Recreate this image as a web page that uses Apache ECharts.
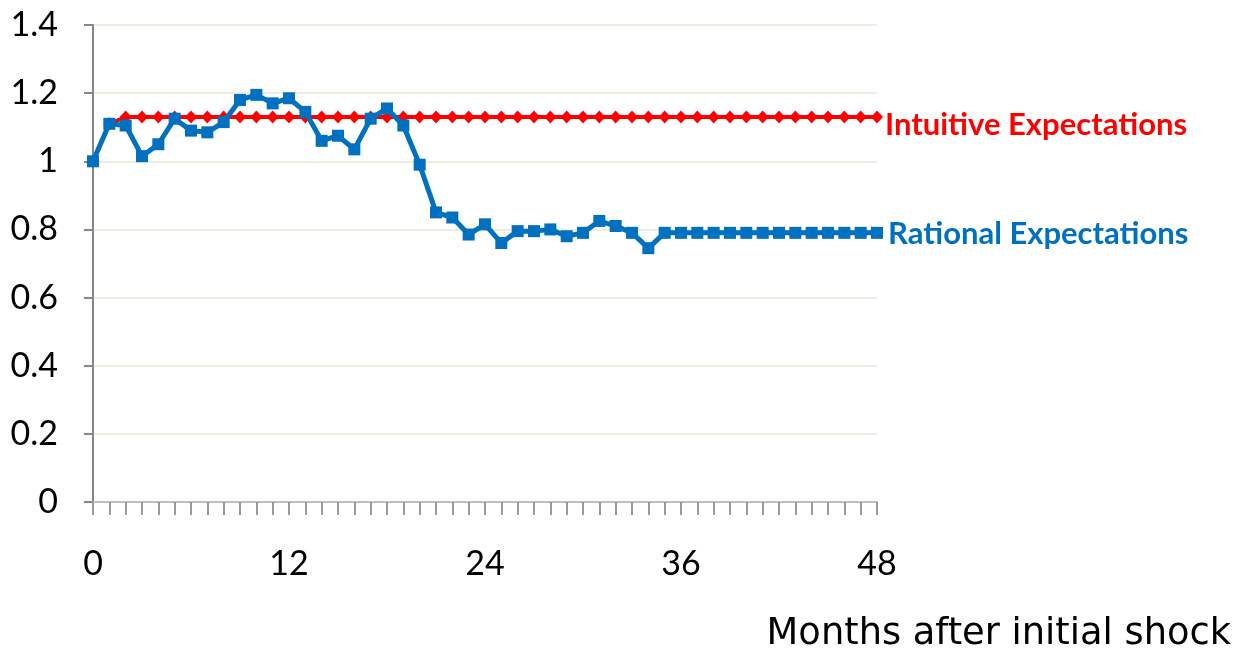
<!DOCTYPE html>
<html>
<head>
<meta charset="utf-8">
<script src="https://cdn.jsdelivr.net/npm/echarts@6/dist/echarts.min.js"></script>
<style>
html,body{margin:0;padding:0;background:#fff;}
#chart{width:1254px;height:654px;}
</style>
</head>
<body>
<div id="chart"></div>
<script>
const months = [0,1,2,3,4,5,6,7,8,9,10,11,12,13,14,15,16,17,18,19,20,21,22,23,24,25,26,27,28,29,30,31,32,33,34,35,36,37,38,39,40,41,42,43,44,45,46,47,48];
const intuitive = [1.00,1.11,1.13,1.13,1.13,1.13,1.13,1.13,1.13,1.13,1.13,1.13,1.13,1.13,1.13,1.13,1.13,1.13,1.13,1.13,1.13,1.13,1.13,1.13,1.13,1.13,1.13,1.13,1.13,1.13,1.13,1.13,1.13,1.13,1.13,1.13,1.13,1.13,1.13,1.13,1.13,1.13,1.13,1.13,1.13,1.13,1.13,1.13,1.13];
const rational = [1.00,1.11,1.105,1.015,1.05,1.125,1.09,1.085,1.115,1.18,1.195,1.17,1.185,1.145,1.06,1.075,1.035,1.125,1.155,1.105,0.99,0.85,0.835,0.785,0.815,0.76,0.795,0.795,0.80,0.78,0.79,0.825,0.81,0.79,0.745,0.79,0.79,0.79,0.79,0.79,0.79,0.79,0.79,0.79,0.79,0.79,0.79,0.79,0.79];
const xTicks = [0,12,24,36,48];
const yTicks = [0,0.2,0.4,0.6,0.8,1,1.2,1.4];
const seriesNames = ['Intuitive Expectations','Rational Expectations'];
const axisTitle = 'Months after initial shock';

const pairs = (vals) => months.map((m, i) => [m, vals[i]]);

const chart = echarts.init(document.getElementById('chart'), null, {renderer:'canvas'});
const labelFont = 'Lato';
chart.setOption({
  animation: false,
  backgroundColor: '#ffffff',
  title: {
    text: axisTitle,
    right: 18,
    top: 611,
    textStyle: {fontFamily: 'DejaVu Sans', fontSize: 36.8, fontWeight: 'normal', color: '#000'}
  },
  grid: {left: 93, right: 377, top: 25, bottom: 152, containLabel: false},
  xAxis: {
    type: 'value',
    min: xTicks[0],
    max: xTicks[xTicks.length - 1],
    interval: 12,
    axisLine: {show: true, onZero: false, lineStyle: {color: '#BFBFBF', width: 2}},
    axisTick: {show: true, length: 13, lineStyle: {color: '#9A9A9A', width: 2}},
    minorTick: {show: true, splitNumber: 12, length: 13, lineStyle: {color: '#9A9A9A', width: 2}},
    splitLine: {show: false},
    axisLabel: {margin: 45, fontFamily: labelFont, fontSize: 34, color: '#000'}
  },
  yAxis: {
    type: 'value',
    min: 0,
    max: 1.4,
    interval: 0.2,
    axisLine: {show: true, lineStyle: {color: '#868686', width: 2}},
    axisTick: {show: true, length: 9, lineStyle: {color: '#868686', width: 2}},
    splitLine: {show: true, lineStyle: {color: '#EEECE1', width: 2}},
    axisLabel: {
      margin: 35, fontFamily: labelFont, fontSize: 34, color: '#000',
      formatter: (v) => {
        const t = yTicks.find(y => Math.abs(y - v) < 1e-6);
        return t === undefined ? '' : String(+t.toFixed(1));
      }
    }
  },
  series: [
    {
      name: seriesNames[0],
      type: 'line',
      data: pairs(intuitive),
      symbol: 'diamond',
      symbolSize: [12, 13],
      lineStyle: {color: '#FF0000', width: 4},
      itemStyle: {color: '#FF0000'},
      z: 2,
      endLabel: {
        show: true, formatter: '{a}', distance: 8, offset: [0, 8],
        fontFamily: labelFont, fontWeight: 'bold', fontSize: 31, color: '#FF0000'
      }
    },
    {
      name: seriesNames[1],
      type: 'line',
      data: pairs(rational),
      symbol: 'rect',
      symbolSize: 12,
      lineStyle: {color: '#0070C0', width: 5},
      itemStyle: {color: '#0070C0'},
      z: 3,
      endLabel: {
        show: true, formatter: '{a}', distance: 11, offset: [0, 1],
        fontFamily: labelFont, fontWeight: 'bold', fontSize: 31, color: '#0070C0'
      }
    }
  ]
});
</script>
</body>
</html>
